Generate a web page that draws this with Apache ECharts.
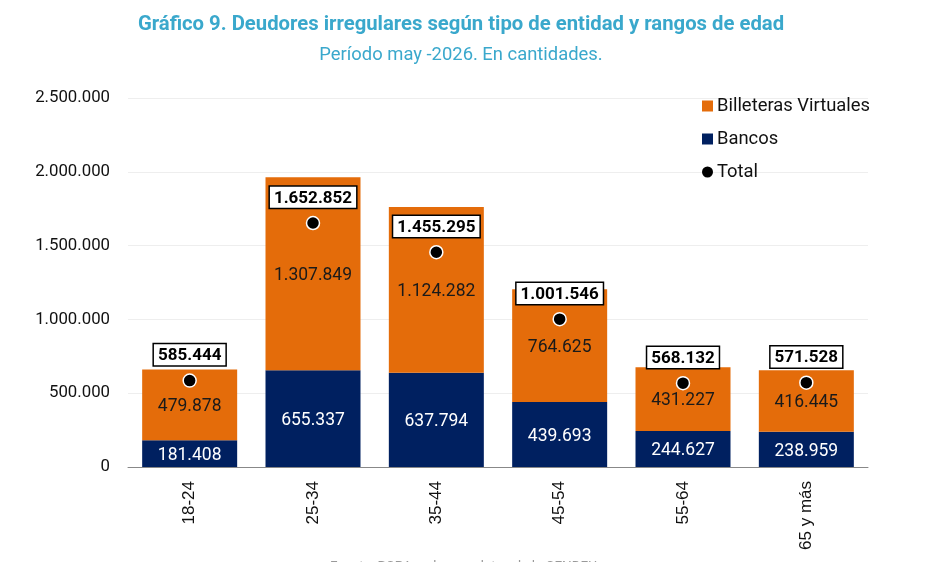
<!DOCTYPE html>
<html>
<head>
<meta charset="utf-8">
<script src="https://cdn.jsdelivr.net/npm/echarts@6/dist/echarts.min.js"></script>
<style>
  html, body { margin: 0; padding: 0; background: #fff; }
  #chart { width: 931px; height: 562px; }
</style>
</head>
<body>
<div id="chart"></div>
<script>
const ageGroups = ['18-24', '25-34', '35-44', '45-54', '55-64', '65 y más']
const bancos = [181408, 655337, 637794, 439693, 244627, 238959]
const billeteras = [479878, 1307849, 1124282, 764625, 431227, 416445]
const totals = [585444, 1652852, 1455295, 1001546, 568132, 571528]

const fmt = v => String(v).replace(/\B(?=(\d{3})+(?!\d))/g, '.')

const chart = echarts.init(document.getElementById('chart'))

const option = {
  animation: false,
  textStyle: { fontFamily: 'Roboto' },
  title: [
    {
      text: 'Gráfico 9. Deudores irregulares según tipo de entidad y rangos de edad',
      left: 456, top: 10, textAlign: 'center',
      textStyle: { fontSize: 20.3, fontWeight: 'bold', color: '#3aa8cc', fontFamily: 'Roboto' }
    },
    {
      text: 'Período may -2026. En cantidades.',
      left: 456, top: 41, textAlign: 'center',
      textStyle: { fontSize: 18.4, fontWeight: 'normal', color: '#3aa8cc', fontFamily: 'Roboto' }
    },
    {
      text: 'Fuente: BCRA en base a datos de la CENDEU.',
      left: 325, top: 555,
      textStyle: { fontSize: 13.5, fontWeight: 'normal', color: '#999', fontFamily: 'Roboto' }
    }
  ],
  legend: {
    orient: 'vertical',
    left: 697, top: 92,
    itemGap: 15,
    itemWidth: 11, itemHeight: 11,
    textStyle: { fontSize: 18.4, color: '#111', padding: [0, 0, 0, -1] },
    data: [
      { name: 'Billeteras Virtuales', icon: 'rect' },
      { name: 'Bancos', icon: 'rect' },
      { name: 'Total', icon: 'circle', itemStyle: { color: '#000', borderWidth: 0 } }
    ]
  },
  grid: { left: 128, right: 63, top: 98, bottom: 95 },
  xAxis: {
    type: 'category',
    data: ageGroups,
    axisLine: { lineStyle: { color: '#888', width: 1 } },
    axisTick: { show: false },
    axisLabel: { rotate: 90, fontSize: 17, color: '#111', margin: 14, fontFamily: 'Liberation Sans' }
  },
  yAxis: {
    type: 'value',
    min: 0, max: 2500000, interval: 500000,
    axisLine: { show: false },
    axisTick: { show: false },
    splitLine: { lineStyle: { color: '#eeeeee', width: 1 } },
    axisLabel: { fontSize: 16.8, color: '#111', margin: 18, formatter: v => fmt(v) }
  },
  series: [
    {
      name: 'Bancos',
      type: 'bar',
      stack: 'total',
      barWidth: 95,
      data: bancos,
      itemStyle: { color: '#002060' },
      label: { show: true, position: 'inside', color: '#fff', fontSize: 17.5, offset: [0, 2], formatter: p => fmt(p.value) },
      z: 2
    },
    {
      name: 'Billeteras Virtuales',
      type: 'bar',
      stack: 'total',
      barWidth: 95,
      data: billeteras,
      itemStyle: { color: '#e46c0a' },
      label: { show: true, position: 'inside', color: '#1a1a1a', fontSize: 17.5, offset: [0, 2], formatter: p => fmt(p.value) },
      z: 2
    },
    {
      name: 'Total',
      type: 'scatter',
      data: totals,
      symbol: 'circle',
      symbolSize: 13,
      itemStyle: { color: '#000', borderColor: '#fff', borderWidth: 1.5, opacity: 1 },
      label: {
        show: true,
        position: 'top',
        distance: 8,
        formatter: p => fmt(p.value),
        fontSize: 17,
        fontWeight: 'bold',
        color: '#000',
        backgroundColor: '#fff',
        borderColor: '#000',
        borderWidth: 1.5,
        padding: [3, 4, 1, 4]
      },
      z: 5
    }
  ]
}

chart.setOption(option)
</script>
</body>
</html>
